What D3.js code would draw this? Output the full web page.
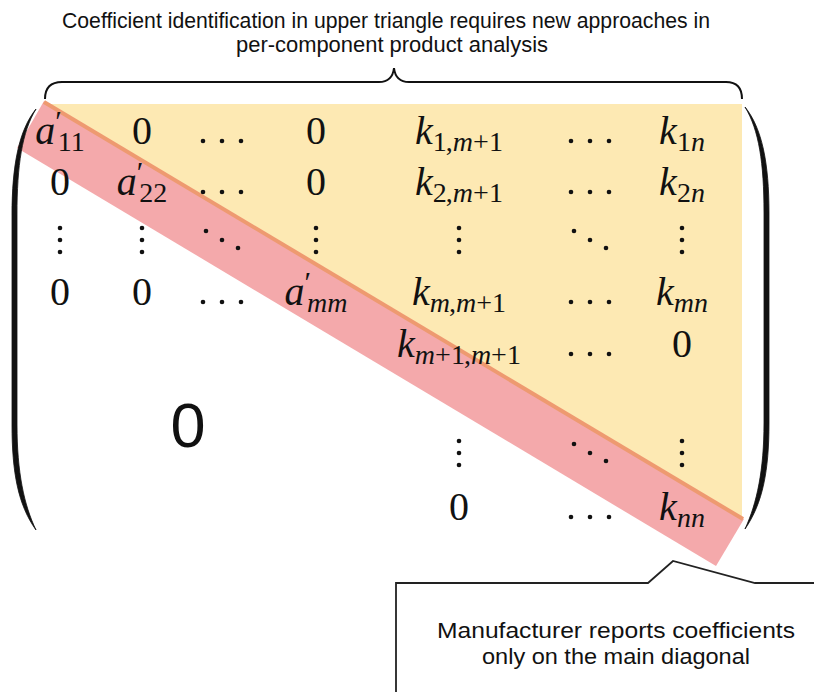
<!DOCTYPE html>
<html><head><meta charset="utf-8">
<script src="https://cdn.jsdelivr.net/npm/d3@7"></script>
<style>body{margin:0;background:#fff}svg{display:block}</style>
</head><body>
<svg id="c" width="814" height="692"></svg>
<script>
// ---- data ----
const titleLines = ["Coefficient identification in upper triangle requires new approaches in",
                    "per-component product analysis"];
const calloutLines = ["Manufacturer reports coefficients", "only on the main diagonal"];
const colKeys = [1,2,3,4,5,6,7];
const rowKeys = [1,2,3,4,5,6,7,8];
const row1 = ["a'_{11}", "0", "ldots", "0", "k_{1,m+1}", "ldots", "k_{1n}"];
const row2 = ["0", "a'_{22}", "ldots", "0", "k_{2,m+1}", "ldots", "k_{2n}"];
const row3 = ["vdots", "vdots", "ddots", "vdots", "vdots", "ddots", "vdots"];
const row4 = ["0", "0", "ldots", "a'_{mm}", "k_{m,m+1}", "ldots", "k_{mn}"];
const row5 = [null, null, null, null, "k_{m+1,m+1}", "ldots", "0"];
const row7 = [null, null, null, null, "vdots", "ddots", "vdots"];
const row8 = [null, null, null, null, "0", "ldots", "k_{nn}"];
const bigZero = "0";

// ---- layout ----
const svg = d3.select("#c");
const colX = [60, 142, 222, 316, 459, 590, 682];
const rowY = [144, 195, 240, 305, 357, 425, 453, 520];
const x = d3.scaleOrdinal().domain(colKeys).range(colX);
const y = d3.scaleOrdinal().domain(rowKeys).range(rowY);

const YELLOW = "#fde9b3", PINK = "#f4a9ab", ORANGE = "#ee9a70", INK = "#111";

// upper triangle
svg.append("path")
  .attr("d", d3.line()([[43,104],[742,104],[742,520],[43,104]]))
  .attr("fill", YELLOW);
// diagonal band
svg.append("path")
  .attr("d", d3.line()([[44,101],[744,519],[716,566],[17,148]]) + "Z")
  .attr("fill", PINK);
// orange edge line
svg.append("line").attr("x1",44).attr("y1",102).attr("x2",743).attr("y2",519)
  .attr("stroke", ORANGE).attr("stroke-width", 4);

// parentheses
svg.append("path")
  .attr("d","M36,109 C19,130 12,165 12,215 L12,425 C12,472 18,505 36,530 C24,505 17,472 17,425 L17,215 C17,165 22,132 36,109 Z")
  .attr("fill", INK).attr("stroke", INK).attr("stroke-width", 0.8);
svg.append("path")
  .attr("d","M745,107 C762,128 769,163 769,213 L769,423 C769,470 763,503 745,529 C757,503 764,470 764,423 L764,213 C764,163 759,130 745,107 Z")
  .attr("fill", INK).attr("stroke", INK).attr("stroke-width", 0.8);

// brace
svg.append("path")
  .attr("d","M45,99 C45,88 50,82 62,82 L379,82 C389,82 393,77 394,68 C395,77 399,82 409,82 L726,82 C737,82 742,88 742,99")
  .attr("fill","none").attr("stroke", INK).attr("stroke-width", 2);

// title
svg.append("g").selectAll("text").data(titleLines).join("text")
  .attr("x", (d,i) => i === 0 ? 386 : 392)
  .attr("y", (d,i) => 28 + i*24)
  .attr("text-anchor","middle")
  .attr("textLength", (d,i) => i === 0 ? 648 : 312)
  .attr("lengthAdjust","spacingAndGlyphs")
  .attr("font-family","Liberation Sans, Arial, sans-serif")
  .attr("font-size", 22).attr("fill", INK)
  .text(d => d);

// callout
svg.append("path")
  .attr("d", d3.line()([[396,700],[396,583],[648,583],[673,561],[755,583],[820,583]]))
  .attr("fill","none").attr("stroke","#222").attr("stroke-width",1.8);
svg.append("g").selectAll("text").data(calloutLines).join("text")
  .attr("x", 616)
  .attr("y", (d,i) => 638 + i*26)
  .attr("text-anchor","middle")
  .attr("textLength", (d,i) => i === 0 ? 358 : 268)
  .attr("lengthAdjust","spacingAndGlyphs")
  .attr("font-family","Liberation Sans, Arial, sans-serif")
  .attr("font-size", 22).attr("fill", INK)
  .text(d => d);

// matrix entries
const rows = [[1,row1],[2,row2],[3,row3],[4,row4],[5,row5],[7,row7],[8,row8]];
const cells = [];
rows.forEach(([r, arr]) => arr.forEach((t, ci) => { if (t) cells.push({r, c: colKeys[ci], t}); }));

const FS = 40, SUB = 28;
const g = svg.append("g");
const dotR = 2.3;
function dots(cx, cy, type) {
  let pts;
  if (type === "ldots") pts = [[-19,-3],[0,-3],[19,-3]];
  else if (type === "vdots") pts = [[0,-12],[0,0],[0,12]];
  else pts = [[-16,-9],[0,0],[16,8]];
  g.selectAll(null).data(pts).join("circle")
    .attr("cx", d => cx + d[0]).attr("cy", d => cy + d[1]).attr("r", dotR).attr("fill", INK);
}
cells.forEach(d => {
  const cx = x(d.c), cy = y(d.r);
  if (d.t === "ldots" || d.t === "vdots" || d.t === "ddots") { dots(cx, cy, d.t); return; }
  const m = d.t.match(/^([a-z0-9])('?)(?:_\{(.*)\})?$/);
  const txt = g.append("text").attr("x", cx).attr("y", cy).attr("text-anchor","middle")
    .attr("font-family","Liberation Serif, Times New Roman, serif").attr("font-size", FS).attr("fill", INK);
  const base = m[1];
  txt.append("tspan").attr("font-style", /[a-z]/.test(base) ? "italic" : "normal").text(base);
  let dyAcc = 0;
  if (m[2]) {
    txt.append("tspan").attr("font-size", 30).attr("dy", -13).attr("dx", 0).text("\u2032");
    dyAcc = -13;
  }
  if (m[3]) {
    const chars = m[3].split("");
    chars.forEach((ch, i) => {
      const ts = txt.append("tspan").attr("font-size", SUB)
        .attr("font-style", /[a-z]/.test(ch) ? "italic" : "normal").text(ch);
      if (i === 0) { ts.attr("dy", 7 - dyAcc); if (m[2]) ts.attr("dx", -4); }
      if (ch === "," ) ts.attr("dx", -1);
    });
  }
});

// big zero for lower block
svg.append("text").attr("x", 188).attr("y", 447).attr("text-anchor","middle")
  .attr("font-family","Liberation Sans, Arial, sans-serif").attr("font-size", 63).attr("fill", INK)
  .text(bigZero);
</script>
</body></html>
